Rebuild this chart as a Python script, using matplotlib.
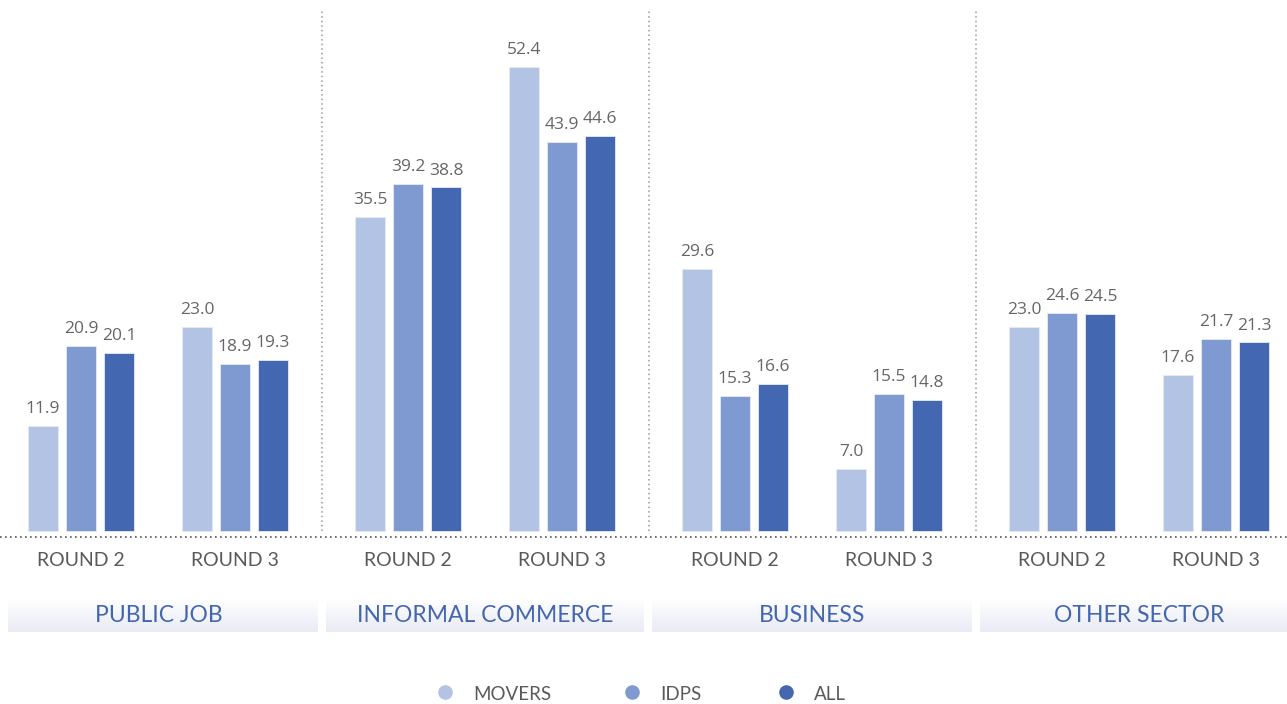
import numpy as np
import matplotlib
matplotlib.use("Agg")
import matplotlib.pyplot as plt

sectors = ["PUBLIC JOB", "INFORMAL COMMERCE", "BUSINESS", "OTHER SECTOR"]
rounds = ["ROUND 2", "ROUND 3"]
series = ["MOVERS", "IDPS", "ALL"]
movers = [[11.9, 23.0], [35.5, 52.4], [29.6, 7.0], [23.0, 17.6]]
idps = [[20.9, 18.9], [39.2, 43.9], [15.3, 15.5], [24.6, 21.7]]
all_ = [[20.1, 19.3], [38.8, 44.6], [16.6, 14.8], [24.5, 21.3]]
colors = ["#b3c3e3", "#7e9ad0", "#4467b1"]

W, H = 1287, 704
fig = plt.figure(figsize=(W / 100, H / 100), dpi=100)

S = 327.0
bottom_px = 537
ax = fig.add_axes([0, (H - bottom_px) / H, 1, bottom_px / H])
ppu = (531 - 67) / 52.4
ax.set_xlim(5 / S, (W + 5) / S)
ax.set_ylim(-(bottom_px - 531) / ppu, 531 / ppu)
for s in ax.spines.values():
    s.set_visible(False)
ax.set_xticks([])
ax.set_yticks([])

round_off = [86 / S, 240 / S]
bar_off = [-38 / S, 0, 38 / S]
bw = 30 / S
data = [movers, idps, all_]
font = "Open Sans"
label_font = "Lato"

for si in range(len(sectors)):
    for ri in range(len(rounds)):
        gc = si + round_off[ri]
        for k in range(3):
            v = data[k][si][ri]
            x = gc + bar_off[k]
            ax.bar(x, v, width=bw, color=colors[k], edgecolor="#e6ebf5", linewidth=0.6, zorder=2)
            ax.text(x, v + 1.0, f"{v:.1f}", ha="center", va="bottom", fontsize=12.5,
                    color="#666666", family=font)

for si in range(1, len(sectors)):
    ax.plot([si, si], [0, (531 - 10) / ppu], color="#999999", linestyle=(0, (1, 2)),
            linewidth=1.1, zorder=1)
ax.axhline(ax.get_ylim()[0] + 0.05, color="#555555", linestyle=(0, (1, 2)), linewidth=1.2, clip_on=False)

ov = fig.add_axes([0, 0, 1, 1], zorder=-1)
ov.set_xlim(0, W)
ov.set_ylim(H, 0)
ov.axis("off")

grad = np.linspace(0, 1, 64).reshape(-1, 1)
top = np.array([1.0, 1.0, 1.0])
bot = np.array([0xe9, 0xeb, 0xf5]) / 255
img = top[None, None, :] * (1 - grad[..., None]) + bot[None, None, :] * grad[..., None]
boxes = [(8, 318), (326, 644), (652, 972), (980, 1287)]
for (x0, x1), name in zip(boxes, sectors):
    ov.imshow(img, extent=(x0, x1, 632, 598), aspect="auto", interpolation="bilinear")
for si, name in enumerate(sectors):
    cx = (si * S - 5) + S / 2
    ov.text(cx, 615, name, ha="center", va="center", fontsize=16.5, color="#4466b0",
            family=label_font)
    for ri, r in enumerate(rounds):
        rx = si * S - 5 + round_off[ri] * S
        ov.text(rx, 561, r, ha="center", va="center", fontsize=14, color="#5a5a5a",
                family=label_font)
ov.set_xlim(0, W)
ov.set_ylim(H, 0)

leg_x = [445, 632, 786]
for k, name in enumerate(series):
    ov.scatter([leg_x[k]], [692], s=90, color=colors[k], zorder=3)
    ov.text(leg_x[k] + 28, 694, name, ha="left", va="center", fontsize=13.5,
            color="#5a5a5a", family=label_font)

fig.savefig("out.png", dpi=100)
